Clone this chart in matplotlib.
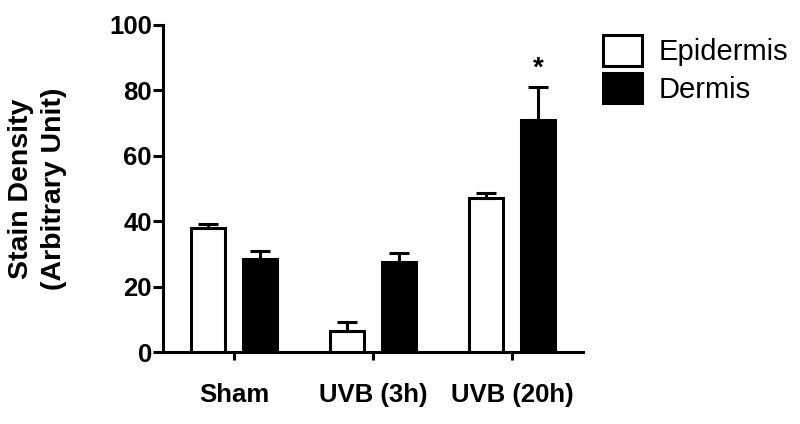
import matplotlib
matplotlib.use("Agg")
import matplotlib.pyplot as plt
import numpy as np
from matplotlib.patches import Patch

categories = ["Sham", "UVB (3h)", "UVB (20h)"]
epidermis = [38.0, 6.5, 47.0]
epidermis_err = [1.2, 2.8, 1.5]
dermis = [28.3, 27.5, 70.8]
dermis_err = [2.5, 2.8, 10.2]
series_names = ["Epidermis", "Dermis"]
yticks = [0, 20, 40, 60, 80, 100]

plt.rcParams['font.family'] = ['Liberation Sans', 'DejaVu Sans']

fig = plt.figure(figsize=(8, 4.24), dpi=100)
ax = fig.add_axes([163/800, 1-352/424, (583-163)/800, (352-25)/424])

x = np.arange(len(categories))
w = 0.245
off = 0.187
lw = 2.2
ekw = dict(elinewidth=lw, capthick=lw, capsize=7.2, ecolor='black')

ax.bar(x - off, epidermis, w, color='white', edgecolor='black', linewidth=lw,
       yerr=[np.zeros(3), epidermis_err], error_kw=ekw, zorder=3)
ax.bar(x + off, dermis, w, color='black', edgecolor='black', linewidth=lw,
       yerr=[np.zeros(3), dermis_err], error_kw=ekw, zorder=3)

ax.text(2 + off, 86.6, "*", ha='center', va='center', fontsize=20, fontweight='bold')

ax.set_xlim(-0.511, 2.511)
ax.set_ylim(0, 100)
ax.set_yticks(yticks)
ax.set_yticklabels([str(t) for t in yticks], fontsize=18.5, fontweight='bold')
ax.set_xticks(x)
ax.set_xticklabels(categories, fontsize=18.5, fontweight='bold')
ax.tick_params(axis='y', length=7, width=lw, pad=1)
ax.tick_params(axis='x', length=6, width=lw, pad=16)
for s in ['top', 'right']:
    ax.spines[s].set_visible(False)
for s in ['left', 'bottom']:
    ax.spines[s].set_linewidth(lw)

ax.set_ylabel("Stain Density\n(Arbitrary Unit)", fontsize=20.5, fontweight='bold',
              labelpad=30, linespacing=1.35)

handles = [Patch(facecolor='white', edgecolor='black', linewidth=lw),
           Patch(facecolor='black', edgecolor='black', linewidth=lw)]
fig.legend(handles, series_names, loc='upper left', bbox_to_anchor=(603/800, 1-35/424),
           frameon=False, fontsize=21, handlelength=1.35, handleheight=1.25,
           handletextpad=0.55, labelspacing=0.22, borderaxespad=0, borderpad=0)

fig.savefig("out.png", dpi=100)
